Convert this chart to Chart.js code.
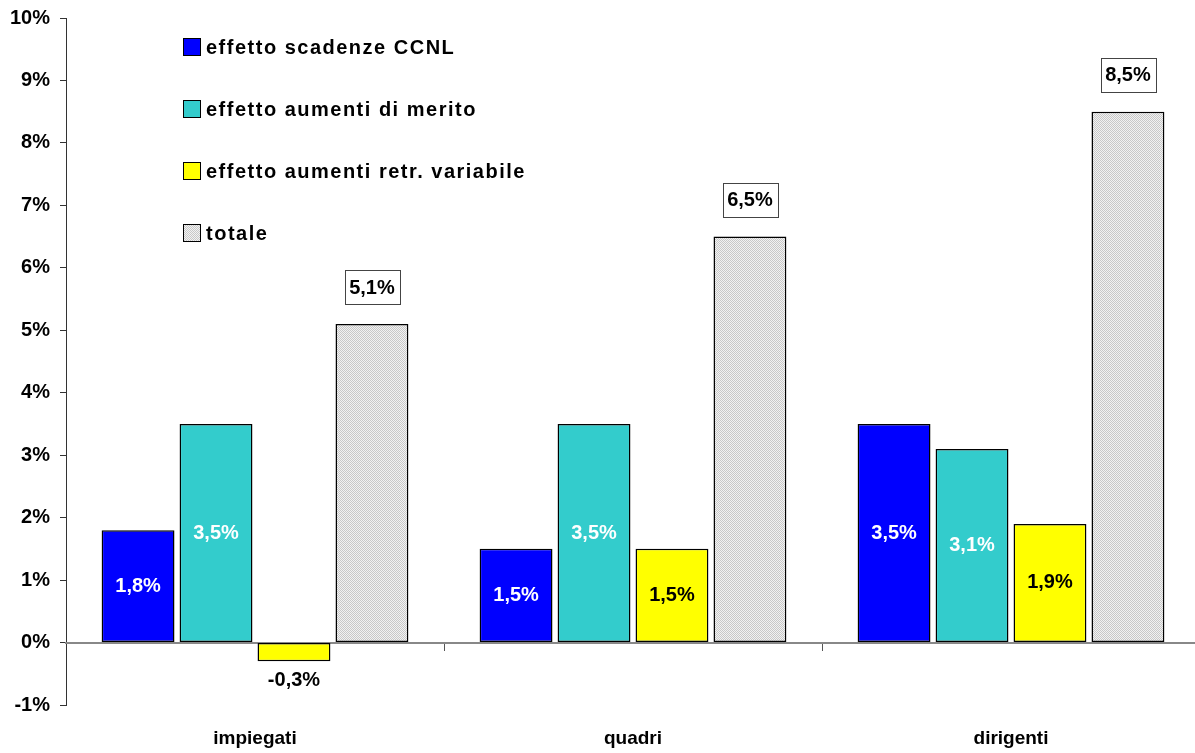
<!DOCTYPE html>
<html>
<head>
<meta charset="utf-8">
<script src="https://cdn.jsdelivr.net/npm/chart.js@4.4.1/dist/chart.umd.min.js"></script>
<style>
  html, body { margin: 0; padding: 0; background: #fff; overflow: hidden; }
  #wrap { width: 1200px; height: 753px; }
</style>
</head>
<body>
<div id="wrap"><canvas id="chart" width="1200" height="753"></canvas></div>
<script>
// Categories and series (percent values)
const categories = ['impiegati', 'quadri', 'dirigenti'];
const seriesNames = [
  'effetto scadenze CCNL',
  'effetto aumenti di merito',
  'effetto aumenti retr. variabile',
  'totale'
];
const scadenzeCCNL  = [1.8, 1.5, 3.5];
const aumentiMerito = [3.5, 3.5, 3.1];
const retrVariabile = [-0.3, 1.5, 1.9];
const totale        = [5.1, 6.5, 8.5];

// Value axis range
const yMin = -1;
const yMax = 10;
const yStep = 1;

const FONT = "'Liberation Sans', Arial, sans-serif";

const pct = v => v.toFixed(1).replace('.', ',') + '%';

// Fine stippled grey fill for the "totale" bars
function stipple() {
  const c = document.createElement('canvas');
  c.width = 2; c.height = 2;
  const g = c.getContext('2d');
  g.fillStyle = '#f2f2f2';
  g.fillRect(0, 0, 2, 2);
  g.fillStyle = '#c8c8c8';
  g.fillRect(0, 0, 1, 1);
  g.fillRect(1, 1, 1, 1);
  return g.createPattern(c, 'repeat');
}

// Value labels: centred inside the bar, below negative bars, or boxed above the bar
const valueLabels = {
  id: 'valueLabels',
  afterDatasetsDraw(chart) {
    const ctx = chart.ctx;
    chart.data.datasets.forEach((ds, i) => {
      const meta = chart.getDatasetMeta(i);
      meta.data.forEach((bar, j) => {
        const v = ds.data[j];
        const txt = pct(v);
        ctx.save();
        ctx.font = 'bold 20px ' + FONT;
        ctx.textAlign = 'center';
        ctx.textBaseline = 'middle';
        if (ds.labelMode === 'boxed') {
          const w = ctx.measureText(txt).width + 9;
          const h = 34;
          const cy = bar.y - 37;
          ctx.fillStyle = '#fff';
          ctx.fillRect(bar.x - w / 2, cy - h / 2, w, h);
          ctx.strokeStyle = '#444';
          ctx.lineWidth = 1;
          ctx.strokeRect(Math.round(bar.x - w / 2) + 0.5, Math.round(cy - h / 2) + 0.5, Math.round(w), h);
          ctx.fillStyle = '#000';
          ctx.fillText(txt, bar.x, cy + 1);
        } else if (v < 0) {
          ctx.fillStyle = '#000';
          ctx.fillText(txt, bar.x, bar.y + 19);
        } else {
          ctx.fillStyle = ds.labelColor;
          ctx.fillText(txt, bar.x, (bar.y + bar.base) / 2);
        }
        ctx.restore();
      });
    });
  }
};

// Legend drawn inside the plot area, top-left
const insideLegend = {
  id: 'insideLegend',
  afterDraw(chart, args, o) {
    const ctx = chart.ctx;
    const a = chart.chartArea;
    chart.data.datasets.forEach((ds, i) => {
      const x = a.left + o.offsetX;
      const y = a.top + o.offsetY + i * o.rowGap;
      ctx.save();
      ctx.fillStyle = ds.backgroundColor;
      ctx.fillRect(x, y - 9, 18, 18);
      ctx.strokeStyle = '#000';
      ctx.lineWidth = 1;
      ctx.strokeRect(x + 0.5, y - 8.5, 17, 17);
      ctx.fillStyle = '#000';
      ctx.font = 'bold 20px ' + FONT;
      ctx.letterSpacing = '1.5px';
      ctx.textAlign = 'left';
      ctx.textBaseline = 'middle';
      ctx.fillText(ds.label, x + 23, y + 1);
      ctx.restore();
    });
  }
};

const barStyle = {
  borderColor: '#000',
  borderWidth: 1.5,
  borderSkipped: false,
  categoryPercentage: 0.825,
  barPercentage: 0.935,
  xAxisID: 'x',
  yAxisID: 'y'
};

new Chart(document.getElementById('chart'), {
  type: 'bar',
  data: {
    labels: categories,
    datasets: [
      Object.assign({ label: seriesNames[0], data: scadenzeCCNL,  backgroundColor: '#0000ff', labelColor: '#fff' }, barStyle),
      Object.assign({ label: seriesNames[1], data: aumentiMerito, backgroundColor: '#33cccc', labelColor: '#fff' }, barStyle),
      Object.assign({ label: seriesNames[2], data: retrVariabile, backgroundColor: '#ffff00', labelColor: '#000' }, barStyle),
      Object.assign({ label: seriesNames[3], data: totale,        backgroundColor: stipple(), labelMode: 'boxed' }, barStyle)
    ]
  },
  options: {
    responsive: false,
    animation: false,
    layout: { padding: { top: 18, left: 0, right: 0, bottom: 0 } },
    plugins: {
      legend: { display: false },
      tooltip: { enabled: false },
      insideLegend: { offsetX: 117, offsetY: 29, rowGap: 62 }
    },
    scales: {
      y: {
        min: yMin,
        max: yMax,
        ticks: {
          stepSize: yStep,
          callback: v => v + '%',
          color: '#000',
          font: { family: FONT, size: 20, weight: 'bold' },
          padding: 10
        },
        grid: { drawOnChartArea: false, drawTicks: true, tickLength: 6, color: '#333' },
        border: { display: true, color: '#333', width: 1 },
        afterFit(s) { s.width = 66; s.paddingTop = 0; s.paddingBottom = 0; }
      },
      x: {
        type: 'category',
        position: 'bottom',
        offset: true,
        grid: { display: false, drawTicks: false },
        border: { display: false },
        ticks: {
          color: '#000',
          font: { family: FONT, size: 19, weight: 'bold' },
          padding: 22,
          maxRotation: 0
        },
        afterFit(s) { s.height = 48; }
      },
      zero: {
        type: 'category',
        axis: 'x',
        position: { y: 0 },
        offset: true,
        grid: { offset: true, drawOnChartArea: false, drawTicks: true, tickLength: 7, color: '#555', lineWidth: 1 },
        border: { display: true, color: '#888', width: 2 },
        ticks: { display: false }
      }
    }
  },
  plugins: [valueLabels, insideLegend]
});
</script>
</body>
</html>
